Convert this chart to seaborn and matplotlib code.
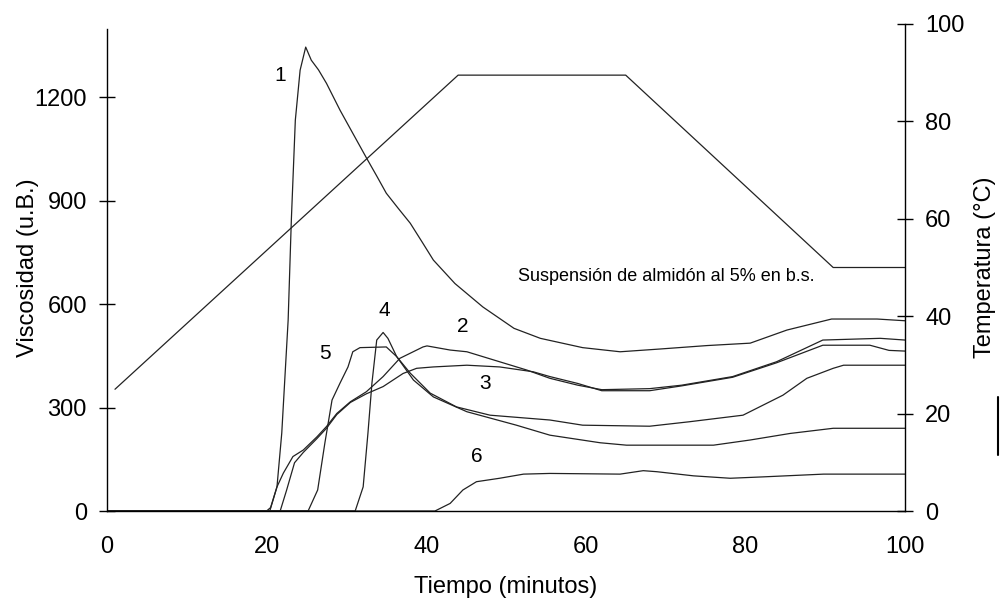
import matplotlib
matplotlib.use("Agg")
import matplotlib.pyplot as plt
from matplotlib.lines import Line2D
import seaborn as sns

# temperature program (right axis)
t_temp = [1, 44, 65, 91, 100]
temp = [25, 89.5, 89.5, 50, 50]

# viscosity curves (left axis)
t1 = [0, 20.0, 20.5, 21.3, 21.9, 22.7, 23.1, 23.6, 24.2, 24.9, 25.6, 26.5, 27.5, 29.2, 30.8, 32.5,
      33.8, 35.0, 36.5, 38.0, 39.5, 40.9, 43.6, 47.1, 51.0, 54.3, 59.6, 64.3, 69.3, 75.2, 80.6,
      85.2, 90.8, 96.5, 100]
v1 = [0, 0, 10, 70, 226, 554, 844, 1134, 1279, 1346, 1308, 1280, 1241, 1163, 1096, 1025,
      972, 922, 878, 835, 780, 728, 660, 592, 530, 501, 474, 462, 470, 480, 487,
      525, 557, 557, 552]

t2 = [0, 20.4, 21.3, 22.1, 23.3, 24.6, 26.3, 27.5, 28.8, 30.5, 32.5, 34.6, 36.7, 39.6, 40.1,
      43.0, 45.1, 49.2, 52.6, 55.5, 59, 62, 68, 72, 78.4, 83.9, 89.7, 96.9, 100]
v2 = [0, 0, 70, 110, 158, 177, 215, 245, 283, 317, 346, 390, 443, 476, 479,
      467, 462, 433, 409, 385, 365, 352, 355, 365, 390, 433, 496, 501, 496]

t3 = [0, 21.7, 22.5, 23.5, 24.6, 26.3, 27.5, 28.8, 30.5, 32.5, 34.6, 37.1, 38.8, 40.9, 45.1,
      49.2, 53.4, 55.5, 59, 62, 68, 72, 78.4, 83.9, 89.7, 95.6, 98, 100]
v3 = [0, 0, 60, 140, 170, 210, 240, 280, 315, 340, 361, 399, 414, 418, 423,
      418, 404, 390, 370, 349, 349, 363, 388, 430, 481, 481, 466, 464]

t4 = [0, 31.1, 32.1, 32.7, 33.2, 33.8, 34.6, 35.2, 36.3, 38.4, 40.9, 45.1, 51.3, 55.5,
      61.8, 65.1, 76, 80.6, 85.6, 91, 100]
v4 = [0, 0, 70, 226, 371, 496, 518, 501, 448, 380, 331, 288, 249, 220,
      198, 191, 191, 206, 225, 240, 240]

t5 = [0, 25.2, 26.4, 27.3, 28.2, 29.2, 30.2, 30.8, 31.7, 35.0, 36.3, 38.0, 40.5, 43.8, 48.0,
      55.5, 59.6, 68, 73, 79.7, 84.7, 87.7, 91, 92.3, 100]
v5 = [0, 0, 61, 197, 322, 371, 418, 462, 474, 476, 448, 400, 342, 302, 278,
      264, 249, 246, 259, 278, 336, 385, 414, 423, 423]

t6 = [0, 41.1, 43, 44.6, 46.3, 49.2, 52.2, 55.5, 64.3, 67.2, 68.9, 73.5, 78.1, 82.2, 89.8, 100]
v6 = [0, 0, 22, 61, 85, 95, 107, 109, 107, 117, 114, 102, 95, 99, 107, 107]

curve_names = ["1", "2", "3", "4", "5", "6"]
curve_t = [t1, t2, t3, t4, t5, t6]
curve_v = [v1, v2, v3, v4, v5, v6]

sns.set_theme(style="white")
plt.rcParams["font.family"] = ["Liberation Sans", "DejaVu Sans"]
plt.rcParams["text.color"] = "black"
plt.rcParams["axes.labelcolor"] = "black"

fig = plt.figure(figsize=(10.07, 6.13), dpi=100)
ax = fig.add_axes([107 / 1007, 102 / 613, 798 / 1007, 487 / 613])
ax2 = ax.twinx()

line_color = "#222222"
for t, v in zip(curve_t, curve_v):
    sns.lineplot(x=t, y=v, ax=ax, color=line_color, linewidth=0.9)

sns.lineplot(x=t_temp, y=temp, ax=ax2, color=line_color, linewidth=0.9)

# curve numbers
label_pos = {"1": (21.7, 1264), "2": (44.6, 534), "3": (47.4, 371),
             "4": (34.8, 583), "5": (27.3, 458), "6": (46.3, 158)}
for name in curve_names:
    x, y = label_pos[name]
    ax.text(x, y, name, fontsize=15, ha="center", va="center", color="black")

ax.text(51.5, 679, "Suspensión de almidón al 5% en b.s.", fontsize=13,
        ha="left", va="center", color="black")

ax.set_xlim(0, 100)
ax.set_ylim(0, 1413)
ax2.set_ylim(0, 100)
ax.set_xticks([0, 20, 40, 60, 80, 100])
ax.set_yticks([0, 300, 600, 900, 1200])
ax2.set_yticks([0, 20, 40, 60, 80, 100])

for a in (ax, ax2):
    a.spines["top"].set_visible(False)
    for s in a.spines.values():
        s.set_color("black")
        s.set_linewidth(1.0)
ax.spines["right"].set_visible(False)
ax2.spines["left"].set_visible(False)
ax2.spines["bottom"].set_visible(False)
ax.spines["left"].set_bounds(0, 1398)

ax.tick_params(axis="x", direction="out", length=7, width=1, pad=11, labelsize=17, colors="black")
ax.tick_params(axis="y", direction="inout", length=11, width=1, pad=9, labelsize=17, colors="black",
               left=True)
ax2.tick_params(axis="y", direction="inout", length=11, width=1, pad=9, labelsize=17, colors="black",
                right=True)

ax.set_xlabel("Tiempo (minutos)", fontsize=17, labelpad=13, color="black")
ax.set_ylabel("Viscosidad (u.B.)", fontsize=17, labelpad=-3, color="black")
ax2.set_ylabel("Temperatura (°C)", fontsize=17, labelpad=7, color="black")

# small vertical mark at the right margin
fig.add_artist(Line2D([0.991, 0.991], [1 - 397 / 613, 1 - 455 / 613], color="black", linewidth=1.5))

fig.savefig("out.png", dpi=100)
